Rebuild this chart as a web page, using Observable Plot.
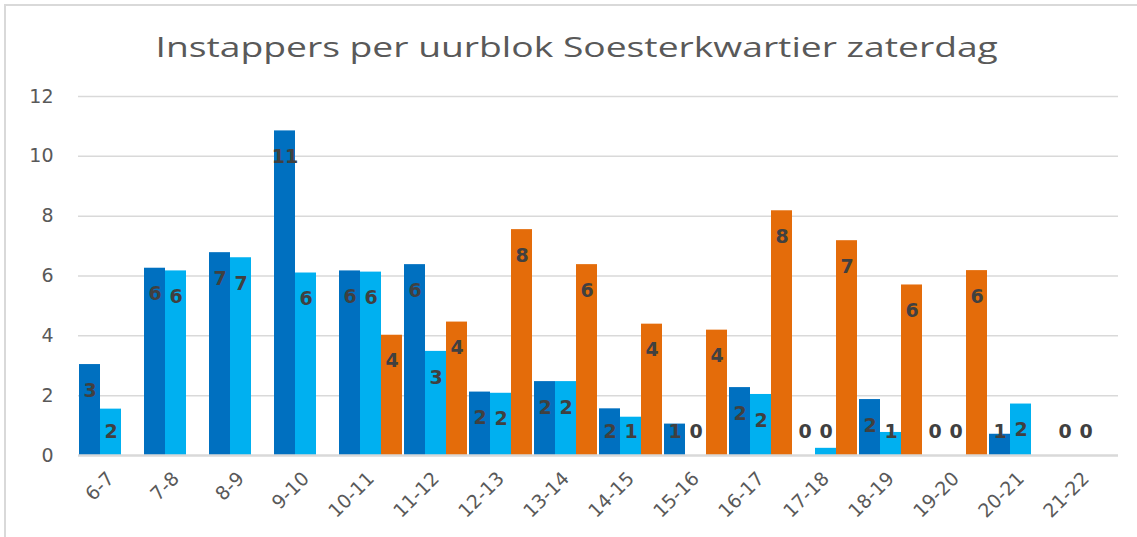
<!DOCTYPE html>
<html>
<head>
<meta charset="utf-8">
<script src="https://cdn.jsdelivr.net/npm/d3@7"></script>
<script src="https://cdn.jsdelivr.net/npm/@observablehq/plot@0.6"></script>
<style>
  html, body { margin: 0; padding: 0; background: #fff; overflow: hidden; }
  #wrap { position: relative; width: 1137px; height: 537px; }
  #frame { position: absolute; left: 4px; top: 4px; width: 1150px; height: 550px; border: 2px solid #d9d9d9; box-sizing: border-box; pointer-events: none; }
  #title { height: 80px; line-height: 92px; text-align: center; padding-left: 16px; font-family: "Open Sans", sans-serif; font-size: 28px; color: #595959; white-space: nowrap; }
  #title span { display: inline-block; transform: scaleX(1.33); transform-origin: center; }
</style>
</head>
<body>
<div id="wrap">
  <div id="title"><span>Instappers per uurblok Soesterkwartier zaterdag</span></div>
  <div id="chart"></div>
  <div id="frame"></div>
</div>
<script>
const categories = ["6-7","7-8","8-9","9-10","10-11","11-12","12-13","13-14","14-15","15-16","16-17","17-18","18-19","19-20","20-21","21-22"];
const seriesNames = ["Reeks 1", "Reeks 2", "Reeks 3"];
const darkBlue = [3.04, 6.26, 6.78, 10.85, 6.17, 6.38, 2.12, 2.47, 1.56, 1.05, 2.27, 0, 1.87, 0, 0.71, 0];
const lightBlue = [1.55, 6.17, 6.61, 6.10, 6.13, 3.48, 2.08, 2.47, 1.28, 0, 2.04, 0.24, 0.77, 0, 1.72, 0];
const orange = [null, null, null, null, 4.02, 4.46, 7.55, 6.38, 4.39, 4.19, 8.18, 7.18, 5.70, 6.18, null, null];
const yTicks = [0, 2, 4, 6, 8, 10, 12];
const colors = ["#0070C0", "#00B0F0", "#E46C0A"];

const rows = [];
[darkBlue, lightBlue, orange].forEach((arr, si) => {
  arr.forEach((v, i) => {
    if (v !== null) rows.push({cat: categories[i], series: seriesNames[si], value: v, label: String(Math.round(v)), ly: Math.max(v - 0.87, 0.8)});
  });
});

const chart = Plot.plot({
  width: 1137,
  height: 457,
  marginLeft: 78,
  marginRight: 19,
  marginTop: 16,
  marginBottom: 82,
  style: {fontFamily: "DejaVu Sans, sans-serif", fontSize: "19px", background: "#fff"},
  fx: {domain: categories, padding: 0, label: null},
  x: {domain: seriesNames, padding: 0, axis: null},
  y: {domain: [0, 12], label: null, axis: null},
  color: {domain: seriesNames, range: colors},
  marks: [
    Plot.ruleY(yTicks.filter(d => d > 0), {stroke: "#d9d9d9", strokeWidth: 1.5}),
    Plot.barY(rows, {fx: "cat", x: "series", y: "value", fill: "series", inset: 0}),
    Plot.ruleY([0], {stroke: "#d9d9d9", strokeWidth: 2.5}),
    Plot.text(rows, {fx: "cat", x: "series", y: "ly", text: "label", fill: "#404040", fontWeight: "bold", fontSize: 19, fontFamily: "DejaVu Sans, sans-serif"}),
    Plot.axisY({ticks: yTicks, tickSize: 0, tickPadding: 25, fontSize: 19, fontFamily: "DejaVu Sans, sans-serif", color: "#595959", label: null, facetAnchor: "left"}),
    Plot.axisFx({anchor: "bottom", tickRotate: -45, tickSize: 0, tickPadding: 20, fontSize: 19, fontFamily: "DejaVu Sans, sans-serif", color: "#595959", label: null})
  ]
});
document.getElementById("chart").appendChild(chart);
</script>
</body>
</html>
